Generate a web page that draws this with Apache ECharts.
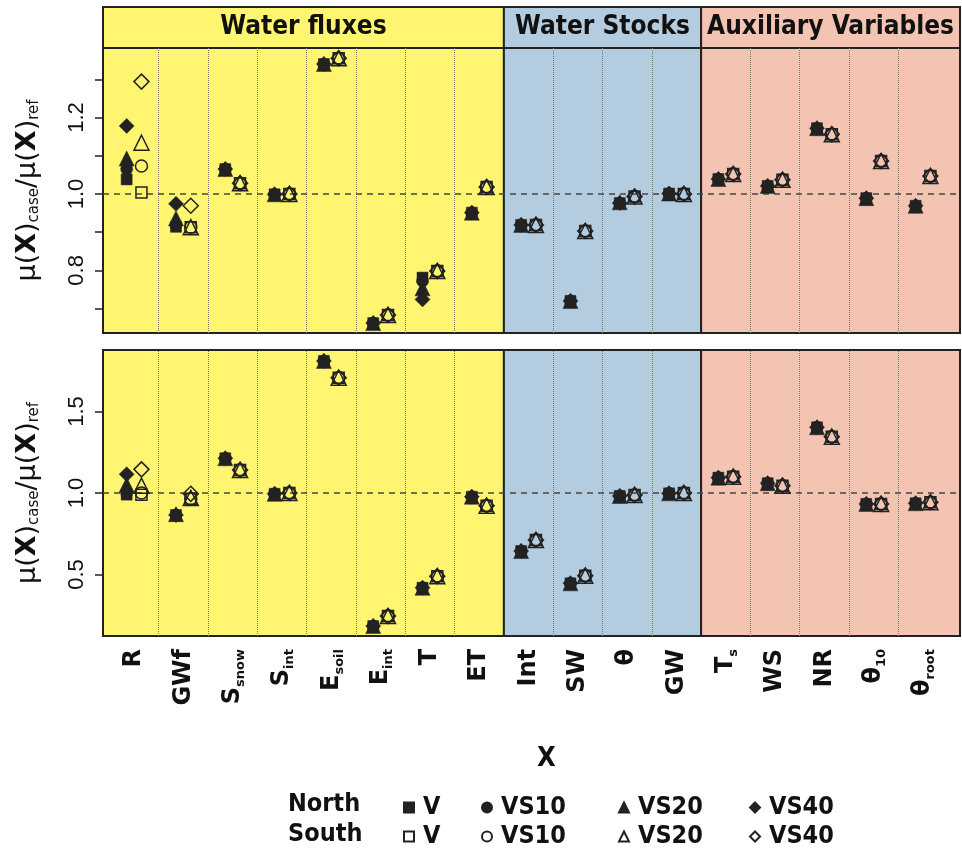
<!DOCTYPE html>
<html><head><meta charset="utf-8">
<script src="https://cdn.jsdelivr.net/npm/echarts@6/dist/echarts.min.js"></script>
<style>html,body{margin:0;padding:0;background:#fff}#c{width:962px;height:852px}</style>
</head><body><div id="c"></div>
<script>
// ---- data ----
const categories = ['R','GWf','S|snow','S|int','E|soil','E|int','T','ET','Int','SW','θ','GW','T|s','WS','NR','θ|10','θ|root'];
const sections = ['Water fluxes','Water Stocks','Auxiliary Variables'];
const sectionBounds = [8.5, 12.5];
const yTicksA = [0.7,0.8,0.9,1.0,1.1,1.2,1.3];
const yLabelsA = [0.8,1.0,1.2];
const yTicksB = [0.5,1.0,1.5];
const yLabelsB = [0.5,1.0,1.5];

// panel (a)
const aNorthV    = [1.038,0.914,1.065,0.999,1.340,0.662,0.781,0.951,0.919,0.720,0.976,1.001,1.039,1.021,1.172,0.989,0.969];
const aNorthVS10 = [1.065,0.918,1.065,0.999,1.340,0.662,0.772,0.951,0.919,0.720,0.976,1.001,1.039,1.021,1.172,0.989,0.969];
const aNorthVS20 = [1.093,0.936,1.065,0.999,1.340,0.662,0.753,0.951,0.919,0.720,0.978,1.001,1.039,1.021,1.172,0.989,0.969];
const aNorthVS40 = [1.178,0.974,1.065,0.999,1.340,0.662,0.724,0.951,0.919,0.720,0.976,1.001,1.039,1.021,1.172,0.989,0.969];
const aSouthV    = [1.004,0.913,1.028,1.000,1.355,0.683,0.798,1.018,0.919,0.903,0.993,1.000,1.052,1.037,1.156,1.086,1.047];
const aSouthVS10 = [1.073,0.913,1.028,1.000,1.355,0.683,0.798,1.018,0.919,0.903,0.993,1.000,1.052,1.037,1.156,1.086,1.047];
const aSouthVS20 = [1.134,0.913,1.028,1.000,1.355,0.683,0.798,1.018,0.919,0.903,0.993,1.000,1.052,1.037,1.156,1.086,1.047];
const aSouthVS40 = [1.294,0.969,1.028,1.000,1.355,0.683,0.798,1.018,0.919,0.903,0.993,1.000,1.052,1.037,1.156,1.086,1.047];

// panel (b)
const bNorthV    = [0.990,0.865,1.213,0.995,1.810,0.184,0.419,0.977,0.644,0.446,0.982,0.998,1.094,1.060,1.403,0.933,0.937];
const bNorthVS10 = [1.000,0.865,1.213,0.995,1.810,0.184,0.419,0.977,0.644,0.446,0.982,0.998,1.094,1.060,1.403,0.933,0.937];
const bNorthVS20 = [1.050,0.870,1.213,0.995,1.810,0.184,0.419,0.977,0.644,0.446,0.982,0.998,1.094,1.060,1.403,0.933,0.937];
const bNorthVS40 = [1.115,0.865,1.213,0.995,1.810,0.184,0.419,0.977,0.644,0.446,0.982,0.998,1.094,1.060,1.403,0.933,0.937];
const bSouthV    = [0.990,0.965,1.141,1.000,1.707,0.245,0.490,0.922,0.712,0.493,0.988,1.000,1.100,1.045,1.345,0.933,0.943];
const bSouthVS10 = [1.000,0.965,1.141,1.000,1.707,0.245,0.490,0.922,0.712,0.493,0.988,1.000,1.100,1.045,1.345,0.933,0.943];
const bSouthVS20 = [1.045,0.970,1.141,1.000,1.707,0.245,0.490,0.922,0.712,0.493,0.988,1.000,1.100,1.045,1.345,0.933,0.943];
const bSouthVS40 = [1.145,0.995,1.141,1.000,1.707,0.245,0.490,0.922,0.712,0.493,0.988,1.000,1.100,1.045,1.345,0.933,0.943];

// ---- styling / layout ----
const xMin = 0.37, xMax = 17.75;
const offset = 0.15;
const secColors = ['#FFF570','#B4CCDF','#F4C4B2'];
const ink = '#222';
const FONT = 'DejaVu Sans';
const CFONT = 'DejaVu Sans Condensed';

const kinds = [
  {key:'V', sym:'rect', size:11},
  {key:'VS10', sym:'circle', size:12},
  {key:'VS20', sym:'triangle', size:15},
  {key:'VS40', sym:'diamond', size:15}
];
const panelData = [
  {north:[aNorthV,aNorthVS10,aNorthVS20,aNorthVS40], south:[aSouthV,aSouthVS10,aSouthVS20,aSouthVS40]},
  {north:[bNorthV,bNorthVS10,bNorthVS20,bNorthVS40], south:[bSouthV,bSouthVS10,bSouthVS20,bSouthVS40]}
];

function secAreas(withLabel){
  const edges = [xMin, ...sectionBounds, xMax];
  return sections.map((s,i)=>[
    {xAxis: edges[i], itemStyle:{color:secColors[i], borderColor:ink, borderWidth:2},
     label: withLabel ? {show:true, position:'inside', formatter:s, fontFamily:CFONT, fontWeight:'bold', fontSize:26, color:'#111'} : {show:false}},
    {xAxis: edges[i+1]}
  ]);
}
const innerLines = [];
for (let k=1.5; k<17; k++) if (!sectionBounds.includes(k)) innerLines.push({xAxis:k});

const series = [];
// header
series.push({type:'scatter', xAxisIndex:0, yAxisIndex:0, data:[], silent:true,
  markArea:{silent:true, data:secAreas(true)}});
[1,2].forEach(g=>{
  series.push({type:'scatter', xAxisIndex:g, yAxisIndex:g, data:[], silent:true,
    markArea:{silent:true, label:{show:false}, data:secAreas(false)}});
  series.push({type:'scatter', xAxisIndex:g, yAxisIndex:g, data:[], silent:true,
    markLine:{silent:true, symbol:'none', label:{show:false},
      lineStyle:{color:'#7a7a6a', width:1, type:'dotted'}, data:innerLines}});
  series.push({type:'scatter', xAxisIndex:g, yAxisIndex:g, data:[], silent:true,
    markLine:{silent:true, symbol:'none', label:{show:false},
      lineStyle:{color:'#444', width:1.5, type:[6,5]}, data:[{yAxis:1}]}});
  const pd = panelData[g-1];
  ['north','south'].forEach(hem=>{
    kinds.forEach((kd,j)=>{
      const vals = pd[hem][j];
      const filled = hem==='north';
      series.push({
        type:'scatter', name:(filled?'North ':'South ')+kd.key,
        xAxisIndex:g, yAxisIndex:g, symbol:kd.sym, symbolSize:kd.size,
        z: 5,
        itemStyle: filled ? {color:ink, borderColor:ink, borderWidth:0.5, opacity:1}
                          : {color:'rgba(0,0,0,0)', borderColor:ink, borderWidth:1.5, opacity:1},
        data: vals.map((v,i)=>[i+1+(filled?-offset:offset), v])
      });
    });
  });
});

function yTitle(){
  return '{m|μ(}{x|X}{m|)}{s|case}{m|/μ(}{x|X}{m|)}{s|ref}';
}
const yNameRich = {
  m:{fontFamily:FONT, fontSize:27, color:'#111'},
  x:{fontFamily:FONT, fontSize:27, fontWeight:'bold', color:'#111'},
  s:{fontFamily:FONT, fontSize:15, color:'#111', verticalAlign:'bottom', padding:[13,0,0,0]}
};
function yAxisFor(gi, min, max, ticks, labels){
  return {type:'value', gridIndex:gi, min, max,
    axisLine:{show:true, lineStyle:{color:ink, width:2}},
    axisTick:{show:true, length:8, lineStyle:{color:ink, width:1.5}, customValues:ticks},
    axisLabel:{show:true, rotate:90, margin:15, fontFamily:'Liberation Sans', fontSize:22, color:'#111',
      customValues:labels, formatter:v=>Number(v).toFixed(1)},
    splitLine:{show:false},
    name: yTitle(), nameLocation:'middle', nameRotate:90, nameGap:61,
    nameTextStyle:{rich:yNameRich}
  };
}

const xRich = {
  m:{fontFamily:FONT, fontWeight:'bold', fontSize:24, color:'#111'},
  s:{fontFamily:FONT, fontWeight:'bold', fontSize:13, color:'#111', verticalAlign:'bottom', padding:[16,0,0,0]}
};
function xLabel(v){
  const c = categories[Math.round(v)-1];
  if (!c) return '';
  const p = c.split('|');
  return p.length>1 ? '{m|'+p[0]+'}{s|'+p[1]+'}' : '{m|'+p[0]+'}';
}

const legendCols = [398, 476, 613, 744];
const legendRows = [790, 819];
const legends = [];
['North','South'].forEach((h,r)=>{
  kinds.forEach((kd,j)=>{
    legends.push({
      left:legendCols[j], top:legendRows[r], itemGap:0,
      itemWidth:10, itemHeight:10, selectedMode:false,
      data:[h+' '+kd.key],
      formatter:n=>n.split(' ')[1],
      textStyle:{fontFamily:CFONT, fontWeight:'bold', fontSize:25, color:'#111', padding:[0,0,0,4]}
    });
  });
});

const option = {
  animation:false,
  backgroundColor:'#fff',
  grid:[
    {left:103, top:7, width:857, height:41, show:false},
    {left:103, top:48, width:857, height:285, show:false},
    {left:103, top:350, width:857, height:286, show:false}
  ],
  xAxis:[
    {type:'value', gridIndex:0, min:xMin, max:xMax, show:false},
    {type:'value', gridIndex:1, min:xMin, max:xMax, axisLine:{show:false}, axisTick:{show:false}, axisLabel:{show:false}, splitLine:{show:false}},
    {type:'value', gridIndex:2, min:xMin, max:xMax, axisLine:{show:false}, axisTick:{show:false}, splitLine:{show:false},
      axisLabel:{show:true, rotate:90, margin:13, customValues:[1,2,3,4,5,6,7,8,9,10,11,12,13,14,15,16,17], formatter:xLabel, rich:xRich}}
  ],
  yAxis:[
    {type:'value', gridIndex:0, min:0, max:1, show:false},
    yAxisFor(1, 0.636, 1.382, yTicksA, yLabelsA),
    yAxisFor(2, 0.123, 1.877, yTicksB, yLabelsB)
  ],
  legend: legends,
  series,
  graphic:[
    {type:'text', right:6, top:58, style:{text:'(a)', font:'bold 28px "DejaVu Sans"', fill:'#111'}},
    {type:'text', right:6, top:366, style:{text:'(b)', font:'bold 28px "DejaVu Sans"', fill:'#111'}},
    {type:'text', left:537, top:745, style:{text:'X', font:'bold 27px "DejaVu Sans Condensed"', fill:'#111'}},
    {type:'text', left:288, top:792, style:{text:'North', font:'bold 25px "DejaVu Sans Condensed"', fill:'#111'}},
    {type:'text', left:288, top:822, style:{text:'South', font:'bold 25px "DejaVu Sans Condensed"', fill:'#111'}}
  ]
};
const chart = echarts.init(document.getElementById('c'), null, {renderer:'canvas'});
chart.setOption(option);
</script></body></html>
